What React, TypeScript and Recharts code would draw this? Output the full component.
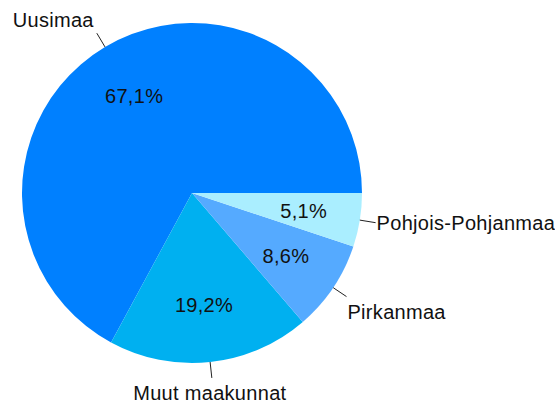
import React from 'react';
import { PieChart, Pie, Cell } from 'recharts';

const regions = ['Uusimaa', 'Muut maakunnat', 'Pirkanmaa', 'Pohjois-Pohjanmaa'];
const shares = [67.1, 19.2, 8.6, 5.1];
const colors = ['#0080ff', '#00b0f0', '#55aaff', '#aaeeff'];

const data = regions.map((name, i) => ({ name, value: shares[i] }));

const RAD = Math.PI / 180;
const FONT = '"Liberation Sans", Arial, sans-serif';

// percent inside the slice, name outside with a short leader line
const renderLabel = (props: any) => {
  const { cx, cy, midAngle, outerRadius, name, value } = props;
  const cos = Math.cos(-midAngle * RAD);
  const sin = Math.sin(-midAngle * RAD);
  const ir = outerRadius * 0.665;
  const ix = cx + ir * cos;
  const iy = cy + ir * sin;
  const sx = cx + outerRadius * cos;
  const sy = cy + outerRadius * sin;
  const ex = cx + (outerRadius + 16) * cos;
  const ey = cy + (outerRadius + 16) * sin;
  const anchor = cos > 0.5 ? 'start' : cos < -0.3 ? 'end' : 'middle';
  let ty = ey + 7;
  if (sin < -0.3) ty = ey - 6;
  else if (sin > 0.3) ty = ey + 22;
  const tx = anchor === 'end' ? ex - 3 : anchor === 'start' ? ex + 1 : ex - 2;

  return (
    <g>
      <text x={ix} y={iy} textAnchor="middle" dominantBaseline="central" fill="#111" fontSize={20} letterSpacing={0.3} fontFamily={FONT}>
        {value.toFixed(1).replace('.', ',')}%
      </text>
      <line x1={sx} y1={sy} x2={ex} y2={ey} stroke="#222" strokeWidth={1} />
      <text x={tx} y={ty} textAnchor={anchor} fill="#111" fontSize={20} letterSpacing={0.3} fontFamily={FONT}>
        {name}
      </text>
    </g>
  );
};

export default function App() {
  return (
    <div style={{ position: 'absolute', left: 0, top: 0, width: 555, height: 405, background: '#fff' }}>
      <PieChart width={555} height={405} margin={{ top: 0, right: 0, bottom: 0, left: 0 }}>
        <Pie
          data={data}
          dataKey="value"
          nameKey="name"
          cx={192}
          cy={193}
          outerRadius={170}
          startAngle={0}
          endAngle={360}
          stroke="none"
          label={renderLabel}
          labelLine={false}
          isAnimationActive={false}
        >
          {data.map((d, i) => (
            <Cell key={d.name} fill={colors[i]} />
          ))}
        </Pie>
      </PieChart>
    </div>
  );
}
